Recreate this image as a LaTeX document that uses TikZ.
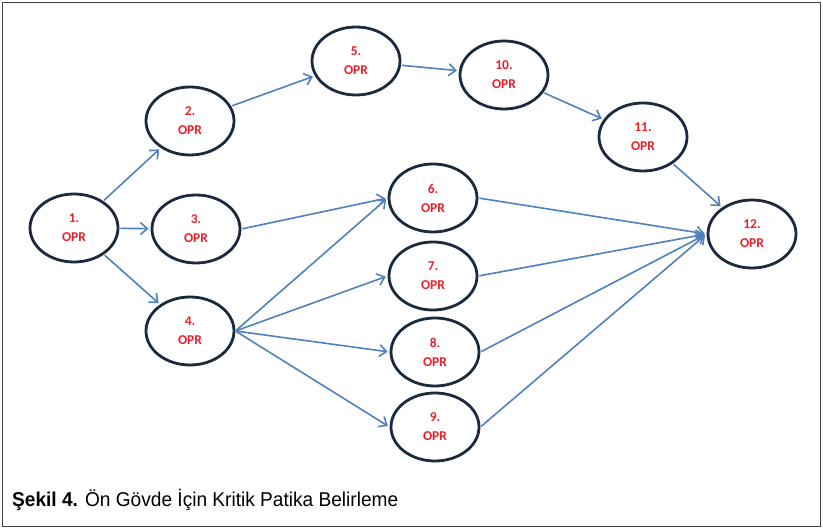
\documentclass[tikz,border=0pt]{standalone}
\usepackage{graphicx}
\usepackage{fontspec}
\setmainfont{Liberation Sans}
\newfontfamily\nodefont{Carlito}
\usetikzlibrary{arrows.meta,shapes.geometric}
\definecolor{navy}{HTML}{1C2A3F}
\definecolor{linkblue}{HTML}{4F81BD}
\definecolor{oprred}{HTML}{E8202A}
\begin{document}
\begin{tikzpicture}[x=1pt,y=-1pt,
  opr/.style={ellipse, draw=navy, line width=2.8pt, minimum width=88pt, minimum height=68pt,
    inner sep=0pt, font=\nodefont\bfseries\fontsize{13.5}{19}\selectfont, text=oprred, align=center},
  link/.style={draw=linkblue, line width=1.6pt, -{Straight Barb[length=7pt,width=12pt]}, shorten >=2pt, shorten <=1pt}]
\useasboundingbox (0,0) rectangle (823,529);
\draw[black!75, line width=1pt] (2.5,2.5) rectangle (820.5,526.5);

\node[opr] (n1) at (74,228) {1.\\OPR};
\node[opr] (n2) at (190,121) {2.\\OPR};
\node[opr] (n3) at (196,229) {3.\\OPR};
\node[opr] (n4) at (190,331) {4.\\OPR};
\node[opr] (n5) at (356,61) {5.\\OPR};
\node[opr] (n10) at (504,75) {10.\\OPR};
\node[opr] (n11) at (643,137) {11.\\OPR};
\node[opr] (n6) at (433,198) {6.\\OPR};
\node[opr] (n7) at (433,276) {7.\\OPR};
\node[opr] (n8) at (435,352) {8.\\OPR};
\node[opr] (n9) at (435,427) {9.\\OPR};
\node[opr] (n12) at (752,234) {12.\\OPR};

\draw[link] (n1) -- (n2);
\draw[link] (n1) -- (n3);
\draw[link] (n1) -- (n4);
\draw[link] (n2) -- (n5);
\draw[link] (n5) -- (n10);
\draw[link] (n10) -- (n11);
\draw[link] (n11) -- (n12);
\draw[link] (n3.east) -- (n6.west);
\draw[link] (n4.east) -- (n6.west);
\draw[link] (n4.east) -- (n7.west);
\draw[link] (n4.east) -- (n8.west);
\draw[link] (n4.east) -- (n9.west);
\draw[link] (n6.east) -- (n12.west);
\draw[link] (n7.east) -- (n12.west);
\draw[link] (n8.east) -- (n12.west);
\draw[link] (n9.east) -- (n12.west);

\node[anchor=base west, inner sep=0pt] (cap) at (12,507)
  {\scalebox{0.955}[1]{\fontsize{20}{24}\selectfont\textbf{Şekil 4.} Ön Gövde İçin Kritik Patika Belirleme}};
\end{tikzpicture}
\end{document}
